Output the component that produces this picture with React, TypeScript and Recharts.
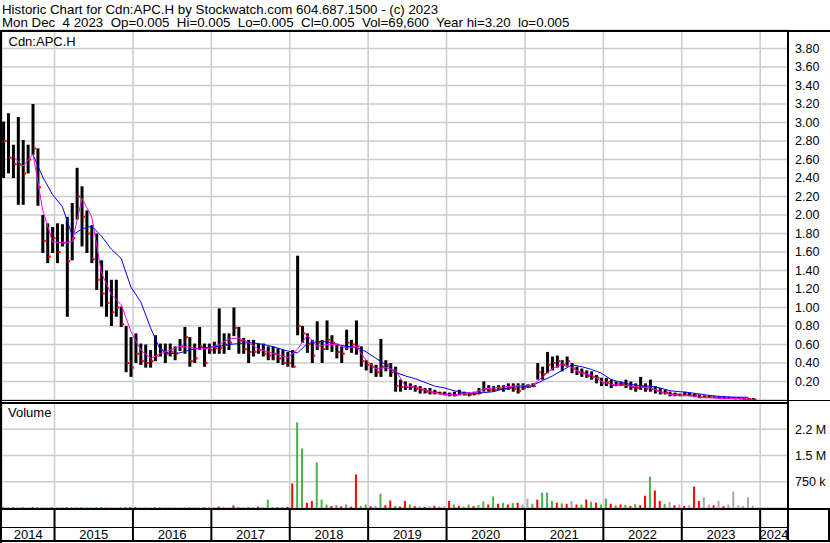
import React from 'react';
import { Bar, CartesianGrid, Cell, ComposedChart, Line, XAxis, YAxis } from 'recharts';

const FONT = '"Liberation Sans", Arial, sans-serif';

const TITLE = 'Historic Chart for Cdn:APC.H by Stockwatch.com 604.687.1500 - (c) 2023';
const QUOTE = 'Mon Dec  4 2023  Op=0.005  Hi=0.005  Lo=0.005  Cl=0.005  Vol=69,600  Year hi=3.20  lo=0.005';
const SYMBOL = 'Cdn:APC.H';

// time axis in decimal years
const X_START = 2014.33;
const X_END = 2024.355;
const YEARS = [2015, 2016, 2017, 2018, 2019, 2020, 2021, 2022, 2023, 2024];

// one bar per 1/16 year
const BIN_START = 2014.35;
const BIN_STEP = 1 / 16;

const HIGH = [
  3.01, 3.1, 2.76, 3.06, 2.81, 2.76, 3.2, 2.72, 2.0, 1.91,
  1.87, 1.91, 1.9, 1.98, 2.13, 2.51, 2.31, 2.05, 1.89, 1.8,
  1.51, 1.4, 1.3, 1.3, 1.01, 0.8, 0.68, 0.72, 0.61, 0.6,
  0.54, 0.7, 0.61, 0.61, 0.61, 0.58, 0.66, 0.79, 0.68, 0.61,
  0.79, 0.61, 0.61, 0.63, 0.99, 0.72, 0.72, 1.0, 0.79, 0.67,
  0.65, 0.65, 0.61, 0.61, 0.58, 0.58, 0.56, 0.54, 0.52, 0.54,
  1.56, 0.8, 0.72, 0.65, 0.85, 0.65, 0.86, 0.7, 0.61, 0.58,
  0.76, 0.65, 0.86, 0.58, 0.43, 0.4, 0.38, 0.66, 0.43, 0.4,
  0.36, 0.22, 0.2, 0.18, 0.16, 0.15, 0.13, 0.13, 0.11, 0.09,
  0.09, 0.08, 0.09, 0.11, 0.09, 0.08, 0.09, 0.13, 0.2, 0.16,
  0.15, 0.16, 0.16, 0.18, 0.18, 0.18, 0.18, 0.17, 0.18, 0.4,
  0.36, 0.52, 0.47, 0.48, 0.43, 0.47, 0.4, 0.36, 0.34, 0.32,
  0.31, 0.27, 0.24, 0.24, 0.22, 0.2, 0.2, 0.22, 0.2, 0.18,
  0.25, 0.18, 0.22, 0.15, 0.13, 0.11, 0.09, 0.08, 0.07, 0.09,
  0.08, 0.07, 0.06, 0.05, 0.05, 0.04, 0.04, 0.04, 0.035, 0.03,
  0.03, 0.025, 0.02, 0.02,
];

const LOW = [
  2.4, 2.45, 2.4, 2.11, 2.11, 2.45, 2.65, 2.1, 1.59, 1.48,
  1.59, 1.48, 1.66, 0.9, 1.51, 1.95, 1.66, 1.59, 1.48, 1.19,
  1.01, 0.9, 0.8, 0.9, 0.79, 0.3, 0.25, 0.4, 0.38, 0.35,
  0.35, 0.42, 0.47, 0.4, 0.47, 0.43, 0.53, 0.5, 0.36, 0.4,
  0.54, 0.36, 0.5, 0.5, 0.5, 0.5, 0.54, 0.69, 0.5, 0.5,
  0.4, 0.47, 0.5, 0.47, 0.43, 0.43, 0.4, 0.38, 0.36, 0.35,
  0.7, 0.62, 0.51, 0.4, 0.54, 0.4, 0.54, 0.52, 0.45, 0.4,
  0.54, 0.51, 0.49, 0.36, 0.32, 0.29, 0.25, 0.25, 0.31, 0.25,
  0.09, 0.09, 0.11, 0.11, 0.09, 0.07, 0.07, 0.06, 0.06, 0.06,
  0.05, 0.04, 0.04, 0.05, 0.05, 0.04, 0.05, 0.06, 0.09, 0.09,
  0.09, 0.11, 0.09, 0.11, 0.09, 0.07, 0.11, 0.13, 0.14, 0.22,
  0.22, 0.29, 0.32, 0.35, 0.31, 0.36, 0.29, 0.27, 0.25, 0.24,
  0.22, 0.18, 0.15, 0.15, 0.13, 0.15, 0.15, 0.13, 0.11, 0.09,
  0.11, 0.09, 0.09, 0.07, 0.06, 0.06, 0.04, 0.04, 0.04, 0.04,
  0.04, 0.03, 0.02, 0.02, 0.02, 0.02, 0.015, 0.01, 0.01, 0.01,
  0.01, 0.005, 0.005, 0.005,
];

const CLOSE = [
  2.8, 2.62, 2.55, 2.54, 2.45, 2.6, 2.72, 2.3, 1.72, 1.55,
  1.75, 1.6, 1.7, 1.5, 1.75, 2.2, 1.98, 1.8, 1.52, 1.3,
  1.15, 1.05, 0.95, 1.0, 0.82, 0.4, 0.35, 0.5, 0.42, 0.4,
  0.42, 0.48, 0.54, 0.5, 0.52, 0.5, 0.58, 0.68, 0.42, 0.45,
  0.58, 0.4, 0.54, 0.56, 0.56, 0.6, 0.62, 0.78, 0.64, 0.55,
  0.52, 0.52, 0.54, 0.5, 0.48, 0.5, 0.45, 0.4, 0.4, 0.36,
  0.8, 0.72, 0.6, 0.48, 0.62, 0.55, 0.65, 0.62, 0.52, 0.5,
  0.62, 0.6, 0.58, 0.42, 0.38, 0.36, 0.3, 0.36, 0.38, 0.3,
  0.15, 0.14, 0.14, 0.14, 0.12, 0.11, 0.09, 0.08, 0.08, 0.07,
  0.06, 0.06, 0.05, 0.07, 0.06, 0.06, 0.07, 0.08, 0.12, 0.11,
  0.11, 0.12, 0.12, 0.13, 0.12, 0.1, 0.13, 0.14, 0.15, 0.3,
  0.28, 0.38, 0.4, 0.42, 0.38, 0.42, 0.34, 0.3, 0.29, 0.26,
  0.25, 0.24, 0.18, 0.19, 0.16, 0.17, 0.17, 0.16, 0.14, 0.13,
  0.15, 0.12, 0.12, 0.1, 0.08, 0.08, 0.06, 0.06, 0.05, 0.06,
  0.05, 0.05, 0.03, 0.03, 0.03, 0.025, 0.02, 0.02, 0.02, 0.015,
  0.015, 0.01, 0.01, 0.005,
];

// moving averages, read every second bar
const MA_SHORT = [
  null, 2.63, 2.53, 2.66, 2.05, 1.71, 1.7, 1.71, 2.18, 1.98,
  1.37, 1.14, 1.03, 0.74, 0.54, 0.45, 0.5, 0.54, 0.58, 0.57,
  0.55, 0.56, 0.6, 0.66, 0.67, 0.62, 0.55, 0.52, 0.49, 0.46,
  0.55, 0.7, 0.58, 0.6, 0.6, 0.56, 0.58, 0.43, 0.34, 0.35,
  0.32, 0.15, 0.14, 0.11, 0.08, 0.06, 0.055, 0.07, 0.08, 0.12,
  0.13, 0.14, 0.15, 0.155, 0.16, 0.25, 0.34, 0.39, 0.35, 0.29,
  0.27, 0.2, 0.17, 0.16, 0.15, 0.14, 0.13, 0.09, 0.06, 0.05,
  0.047, 0.03, 0.025, 0.02, 0.018, 0.015, 0.012,
];

const MA_LONG = [
  null, null, null, 2.65, 2.41, 2.22, 2.09, 1.78, 1.85, 1.88,
  1.77, 1.63, 1.53, 1.22, 1.06, 0.78, 0.54, 0.5, 0.51, 0.54,
  0.56, 0.57, 0.58, 0.6, 0.61, 0.62, 0.61, 0.59, 0.56, 0.53,
  0.51, 0.61, 0.63, 0.63, 0.6, 0.58, 0.57, 0.52, 0.45, 0.38,
  0.3, 0.26, 0.23, 0.19, 0.15, 0.13, 0.1, 0.08, 0.07, 0.08,
  0.09, 0.12, 0.14, 0.14, 0.16, 0.21, 0.26, 0.32, 0.38, 0.36,
  0.33, 0.29, 0.22, 0.19, 0.17, 0.15, 0.15, 0.13, 0.1, 0.09,
  0.08, 0.065, 0.05, 0.04, 0.033, 0.03, 0.03,
];

// volume in thousands of shares, largest day in each bar
const VOLUME_K = [
  15, 12, 20, 10, 18, 8, 25, 15, 20, 10,
  14, 9, 12, 20, 16, 22, 18, 10, 12, 15,
  20, 12, 10, 8, 14, 18, 25, 30, 12, 10,
  8, 15, 12, 20, 10, 8, 14, 18, 12, 10,
  16, 20, 10, 14, 43, 12, 15, 72, 18, 12,
  20, 10, 40, 14, 240, 15, 18, 20, 30, 700,
  2450, 1700, 150, 200, 1300, 240, 100, 60, 80, 50,
  100, 40, 960, 60, 100, 50, 60, 410, 80, 210,
  60, 40, 200, 100, 50, 40, 30, 50, 60, 40,
  50, 200, 100, 60, 40, 100, 50, 80, 190, 100,
  330, 120, 150, 100, 140, 150, 100, 270, 120, 240,
  440, 440, 200, 150, 130, 120, 200, 100, 100, 240,
  180, 150, 100, 270, 120, 80, 100, 90, 60, 110,
  80, 350, 900, 500, 200, 120, 170, 80, 100, 60,
  80, 610, 200, 310, 100, 80, 200, 50, 100, 470,
  80, 60, 310, 70,
];

// g = up day, r = down day, n = unchanged
const VOLUME_SIDE = (
  'rgrgrgrrgr' + 'rgrrggrrgr' + 'rrgrrrrrgr' + 'grrgrrggrr' + 'grrgrrgrrg' +
  'rrrggrrgrr' + 'ggrrgggrgr' + 'grrggrngrr' + 'grrgrgrnrg' + 'nrgrggrggr' +
  'grgrgrnngr' + 'gggrgrnrgr' + 'grggrgrgrg' + 'rrgrrgnrnr' + 'nrrnnrnrnn' + 'nnnn'
).split('');

const PRICE_TICKS = [0.2, 0.4, 0.6, 0.8, 1.0, 1.2, 1.4, 1.6, 1.8, 2.0, 2.2, 2.4, 2.6, 2.8, 3.0, 3.2, 3.4, 3.6, 3.8];
const VOLUME_TICKS = [750000, 1500000, 2250000];

const SIDE_COLORS: Record<string, string> = { g: '#4cb04c', r: '#ff0000', n: '#a8a8a8' };

const binTime = (i: number) => +(BIN_START + i * BIN_STEP).toFixed(4);

const priceRows = HIGH.map((h, i) => ({
  t: binTime(i),
  range: [LOW[i], h],
  close: CLOSE[i],
  maShort: i % 2 === 0 ? MA_SHORT[i / 2] : undefined,
  maLong: i % 2 === 0 ? MA_LONG[i / 2] : undefined,
}));

const volumeRows = VOLUME_K.map((v, i) => ({ t: binTime(i), v: v * 1000, side: VOLUME_SIDE[i] }));

// labels sit in the middle of the visible part of each year
const LABEL_TICKS = [
  (X_START + YEARS[0]) / 2,
  ...YEARS.map((y, i) => (i < YEARS.length - 1 ? y + 0.5 : (y + X_END) / 2)),
];

function PriceBar(props: any) {
  const { x, y, width, height, payload } = props;
  if (x == null || y == null) return null;
  const top = Math.min(y, y + height);
  const h = Math.abs(height);
  const [lo, hi] = payload.range;
  const frac = hi > lo ? (hi - payload.close) / (hi - lo) : 0;
  const cy = top + frac * h;
  return (
    <g>
      <rect x={x} y={top} width={width} height={Math.max(h, 1.5)} fill="#000" />
      <rect x={x + width - 1} y={cy - 1} width={2.5} height={2} fill="#ff0000" />
    </g>
  );
}

const fmtVolume = (v: number) => (v >= 1e6 ? `${Math.floor(v / 1e5) / 10} M` : `${v / 1000} k`);

const line = (style: React.CSSProperties) => (
  <div style={{ position: 'absolute', background: '#000', ...style }} />
);

export default function App() {
  const tickStyle = { fontSize: 12.5, fill: '#000', fontFamily: FONT };
  const headStyle: React.CSSProperties = {
    position: 'absolute',
    left: 2,
    height: 13,
    fontSize: 13.3,
    lineHeight: '13px',
    whiteSpace: 'pre',
  };
  return (
    <div
      style={{
        position: 'absolute',
        left: 0,
        top: 0,
        width: 830,
        height: 543,
        background: '#fff',
        overflow: 'hidden',
        fontFamily: FONT,
        color: '#000',
      }}
    >
      <div style={{ ...headStyle, top: 3 }}>{TITLE}</div>
      <div style={{ ...headStyle, top: 16.3 }}>{QUOTE}</div>

      <div style={{ position: 'absolute', left: 0, top: 0 }}>
        <ComposedChart width={830} height={401} data={priceRows} margin={{ top: 30, right: 0, left: 2, bottom: 1 }}>
          <CartesianGrid stroke="#cccccc" strokeWidth={1.5} />
          <XAxis dataKey="t" type="number" domain={[X_START, X_END]} ticks={YEARS} height={0} allowDataOverflow hide />
          <YAxis
            orientation="right"
            width={42}
            type="number"
            domain={[0, 4]}
            ticks={PRICE_TICKS}
            interval={0}
            tickFormatter={(v: number) => v.toFixed(2)}
            axisLine={false}
            tickLine={false}
            tickSize={0}
            tickMargin={7}
            tick={tickStyle}
            allowDataOverflow
          />
          <Bar dataKey="range" barSize={3} shape={<PriceBar />} isAnimationActive={false} />
          <Line dataKey="maLong" stroke="#0000ff" strokeWidth={1} dot={false} connectNulls isAnimationActive={false} />
          <Line dataKey="maShort" stroke="#ff00ff" strokeWidth={1} dot={false} connectNulls isAnimationActive={false} />
        </ComposedChart>
      </div>

      <div style={{ position: 'absolute', left: 0, top: 400 }}>
        <ComposedChart width={830} height={143} data={volumeRows} margin={{ top: 3, right: 0, left: 2, bottom: 1 }}>
          <CartesianGrid stroke="#cccccc" strokeWidth={1.5} />
          {/* year dividers, running through both rows of the date band */}
          <XAxis
            dataKey="t"
            type="number"
            domain={[X_START, X_END]}
            ticks={YEARS}
            interval={0}
            height={18}
            axisLine={false}
            tick={{ fontSize: 0 }}
            tickFormatter={() => ''}
            tickLine={{ stroke: '#000', strokeWidth: 2 }}
            tickSize={33}
            allowDataOverflow
          />
          {/* year labels */}
          <XAxis
            xAxisId="labels"
            dataKey="t"
            type="number"
            domain={[X_START, X_END]}
            ticks={LABEL_TICKS}
            interval={0}
            height={16}
            axisLine={false}
            tickLine={false}
            tickSize={0}
            tickMargin={4}
            tickFormatter={(v: number) => String(Math.floor(v))}
            tick={{ fontSize: 13, fill: '#000', fontFamily: FONT }}
            allowDataOverflow
          />
          <YAxis
            orientation="right"
            width={42}
            type="number"
            domain={[0, 3000000]}
            ticks={VOLUME_TICKS}
            interval={0}
            tickFormatter={fmtVolume}
            axisLine={false}
            tickLine={false}
            tickSize={0}
            tickMargin={7}
            tick={tickStyle}
            allowDataOverflow
          />
          <Bar dataKey="v" barSize={2} isAnimationActive={false}>
            {volumeRows.map((d, i) => (
              <Cell key={i} fill={SIDE_COLORS[d.side]} />
            ))}
          </Bar>
        </ComposedChart>
      </div>

      <div style={{ position: 'absolute', left: 8.5, top: 34.7, height: 13, fontSize: 13, lineHeight: '13px' }}>{SYMBOL}</div>
      <div style={{ position: 'absolute', left: 8, top: 405.7, height: 13, fontSize: 13, lineHeight: '13px' }}>Volume</div>

      {/* frame */}
      {line({ left: 0, top: 30, width: 830, height: 2 })}
      {line({ left: 0, top: 30, width: 2, height: 513 })}
      {line({ left: 787, top: 30, width: 2, height: 512 })}
      {line({ left: 0, top: 400, width: 830, height: 1 })}
      {line({ left: 0, top: 402, width: 788, height: 2 })}
      {line({ left: 0, top: 508, width: 830, height: 2 })}
      {line({ left: 0, top: 526.5, width: 788, height: 1.5 })}
      {line({ left: 0, top: 540, width: 830, height: 2 })}
      {line({ left: 828, top: 508, width: 2, height: 34 })}
    </div>
  );
}
